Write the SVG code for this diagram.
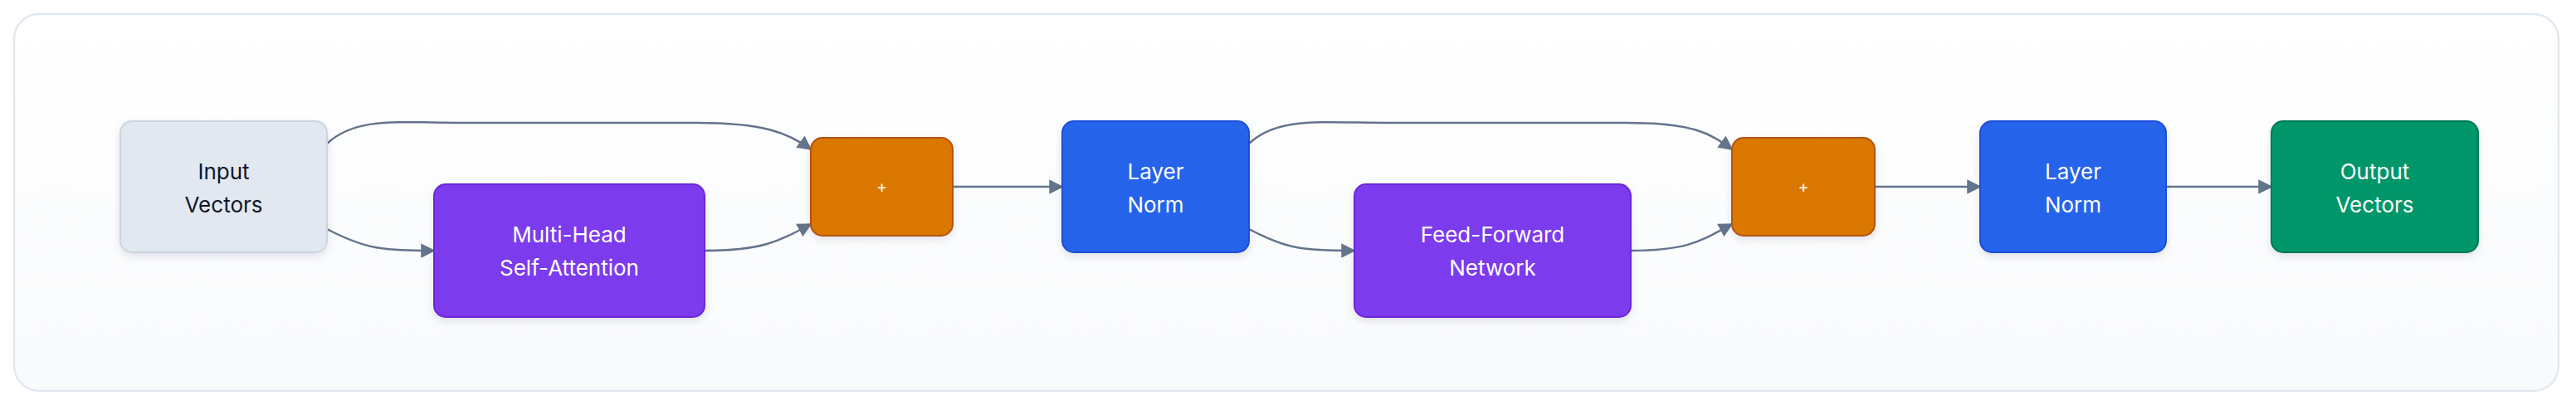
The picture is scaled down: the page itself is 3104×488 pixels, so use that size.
<svg xmlns="http://www.w3.org/2000/svg" width="3104" height="488" viewBox="0 0 3104 488">
<defs>
<linearGradient id="bg" x1="0" y1="0" x2="0" y2="1"><stop offset="0" stop-color="#ffffff"/><stop offset="1" stop-color="#f8fafc"/></linearGradient>
<filter id="sh" x="-10%" y="-10%" width="120%" height="130%"><feDropShadow dx="0" dy="4" stdDeviation="5" flood-color="#0f172a" flood-opacity="0.10"/></filter>
<marker id="ah" viewBox="0 0 10 10" refX="9" refY="5" markerWidth="7" markerHeight="7" markerUnits="strokeWidth" orient="auto"><path d="M0,0 L10,5 L0,10 z" fill="#64748b"/></marker>
<style>
text{font-family:Inter,"Noto Sans","Liberation Sans",sans-serif;font-size:26px;text-anchor:middle;fill:#ffffff}
.e{fill:none;stroke:#64748b;stroke-width:2.5;marker-end:url(#ah)}
.n{stroke-width:2;filter:url(#sh)}
</style>
</defs>
<rect x="17" y="17" width="3066" height="454" rx="30" fill="url(#bg)" stroke="#e2e8f0" stroke-width="2.5"/>
<g id="connectors">
<path class="e" d="M394,173 C430,140 480,148 560,148 L840,148 C920,148 950,160 977,180"/>
<path class="e" d="M394,276 C440,300 460,302 523,302"/>
<path class="e" d="M849,302 C920,302 940,290 977,270"/>
<path class="e" d="M1148,225 L1280,225"/>
<path class="e" d="M1505,173 C1540,140 1590,148 1680,148 L1960,148 C2040,148 2060,160 2087,180"/>
<path class="e" d="M1505,276 C1550,300 1570,302 1632,302"/>
<path class="e" d="M1965,302 C2035,302 2050,290 2087,270"/>
<path class="e" d="M2259,225 L2386,225"/>
<path class="e" d="M2610,225 L2737,225"/>
</g>
<g id="input"><rect class="n" x="145" y="146" width="249" height="158" rx="14" fill="#e2e8f0" stroke="#cbd5e1"/><text x="269.5" y="216" style="fill:#0f172a">Input</text><text x="269.5" y="256" style="fill:#0f172a">Vectors</text></g>
<g id="mha"><rect class="n" x="523" y="222" width="326" height="160" rx="14" fill="#7c3aed" stroke="#6d28d9"/><text x="686" y="292">Multi-Head</text><text x="686" y="332">Self-Attention</text></g>
<g id="add1"><rect class="n" x="977" y="166" width="171" height="118" rx="14" fill="#d97706" stroke="#b45309"/><text x="1062.5" y="232" style="font-size:20px">+</text></g>
<g id="ln1"><rect class="n" x="1280" y="146" width="225" height="158" rx="14" fill="#2563eb" stroke="#1d4ed8"/><text x="1392.5" y="216">Layer</text><text x="1392.5" y="256">Norm</text></g>
<g id="ffn"><rect class="n" x="1632" y="222" width="333" height="160" rx="14" fill="#7c3aed" stroke="#6d28d9"/><text x="1798.5" y="292">Feed-Forward</text><text x="1798.5" y="332">Network</text></g>
<g id="add2"><rect class="n" x="2087" y="166" width="172" height="118" rx="14" fill="#d97706" stroke="#b45309"/><text x="2173" y="232" style="font-size:20px">+</text></g>
<g id="ln2"><rect class="n" x="2386" y="146" width="224" height="158" rx="14" fill="#2563eb" stroke="#1d4ed8"/><text x="2498" y="216">Layer</text><text x="2498" y="256">Norm</text></g>
<g id="output"><rect class="n" x="2737" y="146" width="249" height="158" rx="14" fill="#059669" stroke="#047857"/><text x="2861.5" y="216">Output</text><text x="2861.5" y="256">Vectors</text></g>
</svg>
